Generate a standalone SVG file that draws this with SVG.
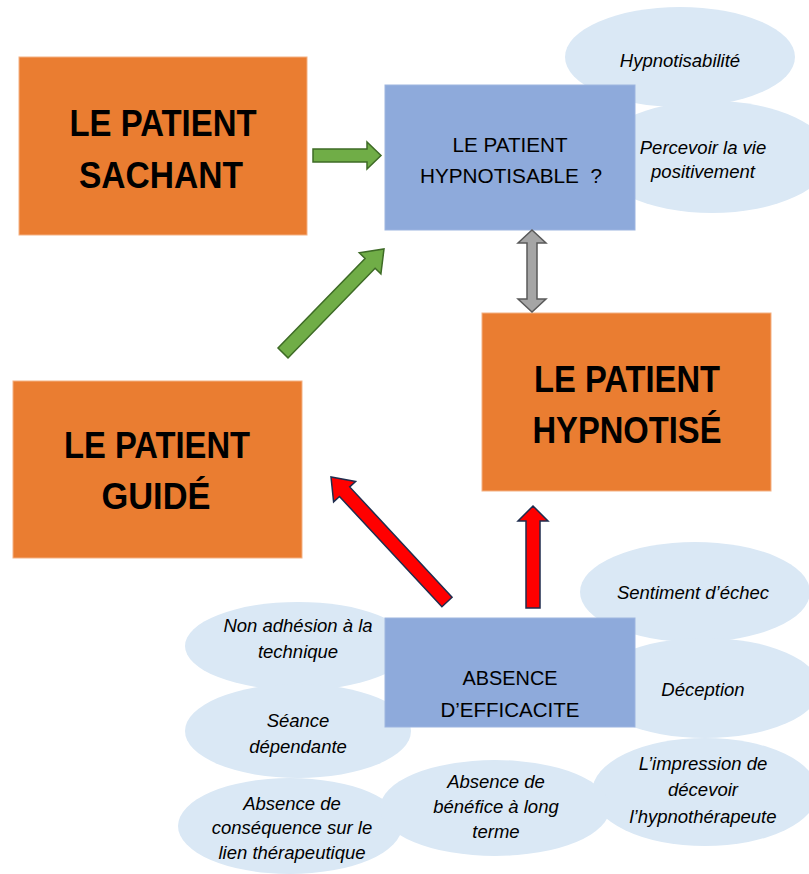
<svg xmlns="http://www.w3.org/2000/svg" width="809" height="874" viewBox="0 0 809 874">
<style>
.orange{fill:#EA7D31;stroke:#F4B183;stroke-width:1}
.blue{fill:#8EAADB;stroke:#9DB5E0;stroke-width:1}
.cloud{fill:#DAE8F5}
.big{font-family:"Liberation Sans",Arial,sans-serif;font-weight:bold;font-size:36px;fill:#000;text-anchor:middle}
.mid{font-family:"Liberation Sans",Arial,sans-serif;font-size:21px;fill:#000;text-anchor:middle}
.it{font-family:"Liberation Sans",Arial,sans-serif;font-style:italic;font-size:18.5px;fill:#000;text-anchor:middle}
.green{fill:#70AD47;stroke:#3E6B26;stroke-width:1.5;stroke-linejoin:miter}
.red{fill:#FF0000;stroke:#1F2D4E;stroke-width:1.5;stroke-linejoin:miter}
.gray{fill:#A5A5A5;stroke:#595959;stroke-width:1.5;stroke-linejoin:miter}
</style>
<rect width="809" height="874" fill="#FFFFFF"/>

<g id="clouds-top">
<ellipse class="cloud" cx="680" cy="57" rx="115" ry="50"/>
<ellipse class="cloud" cx="712" cy="157" rx="118" ry="56"/>
<text class="it" x="680" y="67">Hypnotisabilité</text>
<text class="it" x="703" y="154">Percevoir la vie</text>
<text class="it" x="703" y="178">positivement</text>
</g>

<g id="clouds-left">
<ellipse class="cloud" cx="298" cy="646" rx="113" ry="44"/>
<ellipse class="cloud" cx="298" cy="731" rx="113" ry="47"/>
<ellipse class="cloud" cx="290" cy="826" rx="112" ry="48"/>
<text class="it" x="298" y="632">Non adhésion à la</text>
<text class="it" x="298" y="658">technique</text>
<text class="it" x="298" y="727">Séance</text>
<text class="it" x="298" y="753">dépendante</text>
<text class="it" x="292" y="810">Absence de</text>
<text class="it" x="292" y="834">conséquence sur le</text>
<text class="it" x="292" y="859">lien thérapeutique</text>
</g>

<g id="clouds-right">
<ellipse class="cloud" cx="695" cy="592" rx="115" ry="50"/>
<ellipse class="cloud" cx="705" cy="688" rx="115" ry="50"/>
<ellipse class="cloud" cx="705" cy="792" rx="113" ry="54"/>
<text class="it" x="693" y="599">Sentiment d’échec</text>
<text class="it" x="703" y="696">Déception</text>
<text class="it" x="703" y="770">L’impression de</text>
<text class="it" x="703" y="796">décevoir</text>
<text class="it" x="703" y="823">l’hypnothérapeute</text>
</g>

<g id="cloud-middle">
<ellipse class="cloud" cx="495" cy="808" rx="115" ry="48"/>
<text class="it" x="496" y="788">Absence de</text>
<text class="it" x="496" y="813">bénéfice à long</text>
<text class="it" x="496" y="838">terme</text>
</g>

<g id="sachant">
<rect class="orange" x="19" y="57" width="288" height="178"/>
<text class="big" x="163" y="136" textLength="187" lengthAdjust="spacingAndGlyphs">LE PATIENT</text>
<text class="big" x="161" y="188" textLength="164" lengthAdjust="spacingAndGlyphs">SACHANT</text>
</g>

<g id="hypnotisable">
<rect class="blue" x="385" y="85" width="250" height="145"/>
<text class="mid" x="510" y="152" textLength="115" lengthAdjust="spacingAndGlyphs">LE PATIENT</text>
<text class="mid" x="511" y="183" textLength="182" lengthAdjust="spacingAndGlyphs">HYPNOTISABLE&#160; ?</text>
</g>

<g id="hypnotise">
<rect class="orange" x="482" y="313" width="289" height="178"/>
<text class="big" x="627" y="392" textLength="186" lengthAdjust="spacingAndGlyphs">LE PATIENT</text>
<text class="big" x="627" y="443" textLength="189" lengthAdjust="spacingAndGlyphs">HYPNOTISÉ</text>
</g>

<g id="guide">
<rect class="orange" x="13" y="381" width="289" height="177"/>
<text class="big" x="157" y="458" textLength="186" lengthAdjust="spacingAndGlyphs">LE PATIENT</text>
<text class="big" x="156" y="509" textLength="109" lengthAdjust="spacingAndGlyphs">GUIDÉ</text>
</g>

<g id="absence">
<rect class="blue" x="385" y="618" width="250" height="109"/>
<text class="mid" x="510" y="685" textLength="95" lengthAdjust="spacingAndGlyphs">ABSENCE</text>
<text class="mid" x="510" y="717" textLength="139" lengthAdjust="spacingAndGlyphs">D’EFFICACITE</text>
</g>

<g id="connectors">
<polygon class="green" points="313,149 367,149 367,142 381,155.5 367,169 367,162 313,162"/>
<polygon class="green" points="288,357.9 375.1,268.2 380.9,273.8 384,249 359.3,252.8 365.1,258.4 278,348.1"/>
<polygon class="gray" points="532,230 546,243 537,243 537,299 546,299 532,312 518,299 527,299 527,243 518,243"/>
<polygon class="red" points="533,506 548,521 540,521 540,608 526,608 526,521 518,521"/>
<polygon class="red" points="452.1,597.2 349.7,486.9 355.6,481.5 331,477 333.6,501.9 339.5,496.5 441.9,606.8"/>
</g>
</svg>
